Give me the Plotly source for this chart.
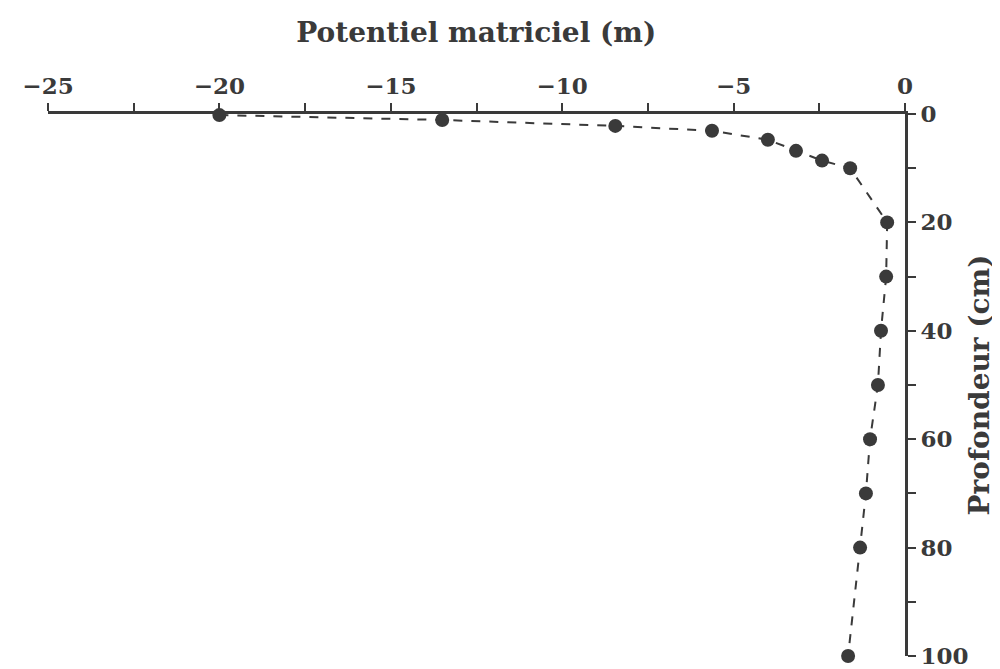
import plotly.graph_objects as go

potentiel = [-20.0, -13.5, -8.45, -5.63, -4.0, -3.18, -2.42, -1.6,
             -0.52, -0.55, -0.7, -0.79, -1.02, -1.14, -1.31, -1.66]
profondeur = [0.2, 1.1, 2.2, 3.1, 4.75, 6.8, 8.6, 10,
              20, 30, 40, 50, 60, 70, 80, 100]

x_ticks = [-25, -20, -15, -10, -5, 0]
y_ticks = [0, 20, 40, 60, 80, 100]

ink = "#3a3a3a"
font_fam = "DejaVu Serif"

fig = go.Figure()
fig.add_trace(go.Scatter(
    x=potentiel, y=profondeur, mode="lines+markers",
    line=dict(color=ink, width=2, dash="dash"),
    marker=dict(color=ink, size=14),
    cliponaxis=False, showlegend=False,
))

fig.update_layout(
    width=992, height=669,
    margin=dict(l=40, r=95, t=106, b=21, autoexpand=False),
    paper_bgcolor="white", plot_bgcolor="white",
    font=dict(family=font_fam, color=ink, size=20),
    title=dict(text="<b>Potentiel matriciel (m)</b>", x=0.472, xanchor="center",
               y=1 - 24 / 669, yanchor="middle", font=dict(size=28, family=font_fam, color=ink)),
)
fig.update_xaxes(
    side="top", range=[-25, 0], tickvals=x_ticks,
    ticktext=["<b>\u2212%d</b>" % abs(v) if v else "<b>0</b>" for v in x_ticks],
    automargin=False,
    showgrid=False, zeroline=False,
    showline=True, linecolor=ink, linewidth=3,
    ticks="outside", ticklen=8, tickwidth=2, tickcolor=ink,
    minor=dict(dtick=2.5, tick0=0, ticks="outside", ticklen=8, tickwidth=2, tickcolor=ink),
    tickfont=dict(size=23, family=font_fam, color=ink),
)
fig.update_yaxes(
    side="right", range=[100, 0], tickvals=y_ticks,
    ticktext=["<b>%d</b>" % v for v in y_ticks],
    ticklabeloverflow="allow", automargin=False,
    showgrid=False, zeroline=False,
    showline=True, linecolor=ink, linewidth=3,
    ticks="outside", ticklen=8, tickwidth=2, tickcolor=ink,
    minor=dict(dtick=10, tick0=0, ticks="outside", ticklen=8, tickwidth=2, tickcolor=ink),
    tickfont=dict(size=23, family=font_fam, color=ink),
    title=dict(text="<b>Profondeur (cm)</b>", standoff=2,
               font=dict(size=28, family=font_fam, color=ink)),
)

fig.write_html("out.html")
